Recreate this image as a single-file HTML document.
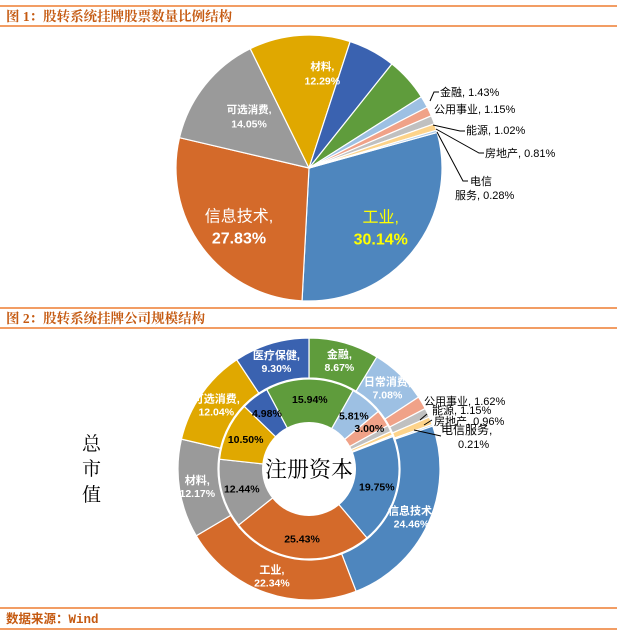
<!DOCTYPE html>
<html><head><meta charset="utf-8">
<style>
body{margin:0;background:#fff;width:617px;height:634px;overflow:hidden;font-family:"Liberation Sans","Noto Sans CJK SC",sans-serif;}
svg{display:block}
</style></head>
<body>
<svg id="chart" width="617" height="634" xmlns="http://www.w3.org/2000/svg">
  <line x1="0" y1="6" x2="617" y2="6" stroke="#ed7d31" stroke-width="1.5"/>
  <line x1="0" y1="26" x2="617" y2="26" stroke="#ed7d31" stroke-width="1.5"/>
  <text x="6" y="21" font-size="13.5" font-weight="bold" fill="#c55a11" font-family="'Liberation Serif','Noto Serif CJK SC',serif">图 1：股转系统挂牌股票数量比例结构</text>
  <line x1="0" y1="308" x2="617" y2="308" stroke="#ed7d31" stroke-width="1.5"/>
  <line x1="0" y1="328" x2="617" y2="328" stroke="#ed7d31" stroke-width="1.5"/>
  <text x="6" y="323" font-size="13.5" font-weight="bold" fill="#c55a11" font-family="'Liberation Serif','Noto Serif CJK SC',serif">图 2：股转系统挂牌公司规模结构</text>
  <line x1="0" y1="608" x2="617" y2="608" stroke="#ed7d31" stroke-width="1.5"/>
  <line x1="0" y1="629" x2="617" y2="629" stroke="#ed7d31" stroke-width="1.5"/>
  <text x="6" y="623" font-size="12.5" font-weight="bold" fill="#c55a11" font-family="'Liberation Mono','Noto Sans CJK SC',monospace">数据来源：Wind</text>
  <g id="pie1"></g>
  <g id="donut"></g>
  <g font-size="19" fill="#000" font-family="'Liberation Serif','Noto Serif CJK SC',serif">
    <text x="82" y="450">总</text><text x="82" y="475">市</text><text x="82" y="501">值</text>
  </g>
  <g stroke="#000" stroke-width="1" fill="none">
    <polyline points="430,101 434,92 439,92"/>
    <polyline points="433,125 460,131 465,131"/>
    <polyline points="436,129 479,153 484,153"/>
    <polyline points="437,132 463,181 468,181"/>
  </g>
  <g font-size="11" fill="#000">
    <text x="440" y="96">金融, 1.43%</text>
    <text x="434" y="113">公用事业, 1.15%</text>
    <text x="466" y="134">能源, 1.02%</text>
    <text x="485" y="157">房地产, 0.81%</text>
    <text x="470" y="185">电信</text>
    <text x="455" y="199">服务, 0.28%</text>
  </g>
  <g stroke="#000" stroke-width="1" fill="none">
    <line x1="420" y1="420" x2="427" y2="414"/>
    <line x1="424" y1="425" x2="432" y2="420"/>
    <line x1="414" y1="430" x2="441" y2="436"/>
  </g>
  <g font-size="11" fill="#000">
    <text x="424" y="405">公用事业, 1.62%</text>
    <text x="432" y="414">能源, 1.15%</text>
    <text x="434" y="425">房地产, 0.96%</text>
    <text x="441" y="434" font-size="12">电信服务,</text>
    <text x="458" y="448">0.21%</text>
  </g>
  <circle cx="309" cy="469" r="47" fill="#fff"/>
  <text x="309" y="477" font-size="22" text-anchor="middle" font-family="'Liberation Serif','Noto Serif CJK SC',serif" fill="#000">注册资本</text>
</svg>
<script>
// Chart 1: stock count share
const pieCats = ["工业","信息技术","可选消费","材料","医疗保健","日常消费","金融","公用事业","能源","房地产","电信服务"];
const pieVals = [30.14,27.83,14.05,12.29,5.7,5.3,1.43,1.15,1.02,0.81,0.28];
const pieColors = ["#4e86be","#d46a2a","#9a9a9a","#e0a800","#3a62b0","#5f9c3c","#9dc0e3","#f0a288","#c0c0c0","#fdd38a","#a9c8e8"];
// Chart 2: outer ring (market value) and inner ring (registered capital)
const ringCats = ["金融","日常消费","公用事业","能源","房地产","电信服务","信息技术","工业","材料","可选消费","医疗保健"];
const outerVals = [8.67,7.08,1.62,1.15,0.96,0.21,24.46,22.34,12.17,12.04,9.30];
const innerVals = [15.94,5.81,3.00,1.2,0.7,0.25,19.75,25.43,12.44,10.50,4.98];
const outerLabelIdx = [0,1,6,7,8,9,10];
const innerLabelIdx = [0,1,2,6,7,8,9,10];
const ringColors = ["#5f9c3c","#9dc0e3","#f0a288","#c0c0c0","#fdd38a","#a9c8e8","#4e86be","#d46a2a","#9a9a9a","#e0a800","#3a62b0"];

const NS="http://www.w3.org/2000/svg";
function pt(cx,cy,r,deg){const a=deg*Math.PI/180;return [cx+r*Math.sin(a),cy-r*Math.cos(a)];}
function arcPath(cx,cy,r0,r1,a0,a1){
  const large=(a1-a0)>180?1:0;
  const p1=pt(cx,cy,r1,a0),p2=pt(cx,cy,r1,a1);
  if(r0===0) return `M${cx},${cy}L${p1}A${r1},${r1} 0 ${large} 1 ${p2}Z`;
  const p3=pt(cx,cy,r0,a1),p4=pt(cx,cy,r0,a0);
  return `M${p1}A${r1},${r1} 0 ${large} 1 ${p2}L${p3}A${r0},${r0} 0 ${large} 0 ${p4}Z`;
}
function angleScale(vals,start){const t=vals.reduce((a,b)=>a+b,0);let acc=start;return vals.map(v=>{const a0=acc;acc+=v/t*360;return [a0,acc];});}
function txt(g,x,y,s,size,fill,bold){const t=document.createElementNS(NS,"text");t.setAttribute("x",x);t.setAttribute("y",y);t.setAttribute("font-size",size);t.setAttribute("fill",fill);t.setAttribute("text-anchor","middle");if(bold)t.setAttribute("font-weight","bold");t.textContent=s;g.appendChild(t);return t;}

// pie 1
const g1=document.getElementById("pie1");
const a1=angleScale(pieVals,74.5);
pieVals.forEach((v,i)=>{
  const p=document.createElementNS(NS,"path");
  p.setAttribute("d",arcPath(309,168,0,133,a1[i][0],a1[i][1]));
  p.setAttribute("fill",pieColors[i]);p.setAttribute("stroke","#fff");p.setAttribute("stroke-width","1.2");
  
  
  g1.appendChild(p);
});
// label placement: [slice index, angle offset from slice middle, radius, font size, colour]
const pieLab=[[0,0,92,16,"#ffff00"],[1,-2,90,16,"#fff"],[2,3,80,10.5,"#fff"],[3,12,97,10.5,"#fff"]];
pieLab.forEach(([i,off,r,sz,col])=>{
  const m=(a1[i][0]+a1[i][1])/2+off;const [x,y]=pt(309,168,r,m);
  const lh=sz*1.25;
  const t1=txt(g1,x,y-lh*0.15,pieCats[i]+",",sz,col,i<2?false:true);
  
  
  const t2=txt(g1,x,y+lh*0.95,pieVals[i].toFixed(2)+"%",sz,col,true);
  
  
});

// donut
const g2=document.getElementById("donut");
const ao=angleScale(outerVals,0), ai=angleScale(innerVals,-28);
outerVals.forEach((v,i)=>{
  const p=document.createElementNS(NS,"path");
  p.setAttribute("d",arcPath(309,469,91,131,ao[i][0],ao[i][1]));
  p.setAttribute("fill",ringColors[i]);p.setAttribute("stroke","#fff");p.setAttribute("stroke-width","1.2");
  
  
  g2.appendChild(p);
});
innerVals.forEach((v,i)=>{
  const p=document.createElementNS(NS,"path");
  p.setAttribute("d",arcPath(309,469,46,90,ai[i][0],ai[i][1]));
  p.setAttribute("fill",ringColors[i]);p.setAttribute("stroke","#fff");p.setAttribute("stroke-width","1.2");
  
  
  g2.appendChild(p);
});
outerLabelIdx.forEach(i=>{
  const m=(ao[i][0]+ao[i][1])/2;const [x,y]=pt(309,469,113,m);
  const t1=txt(g2,x,y-2,ringCats[i]+",",11,"#fff",true);
  
  
  const t2=txt(g2,x,y+11,outerVals[i].toFixed(2)+"%",10.5,"#fff",true);
  
  
});
innerLabelIdx.forEach(i=>{
  const m=(ai[i][0]+ai[i][1])/2;const [x,y]=pt(309,469,i===2?73:70,m);
  const t=txt(g2,x,y+4,innerVals[i].toFixed(2)+"%",10.5,"#000",true);
  
  
});
</script>
</body></html>
